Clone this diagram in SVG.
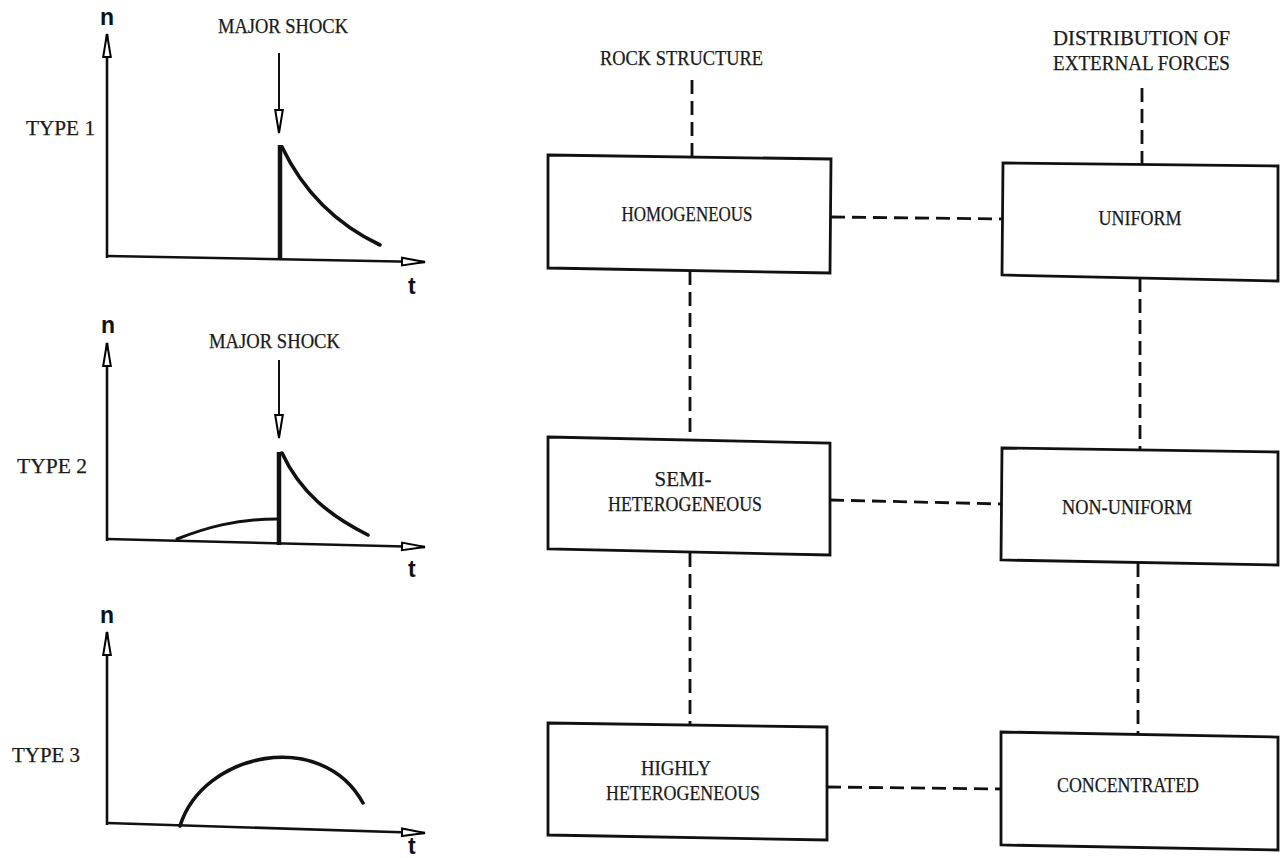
<svg xmlns="http://www.w3.org/2000/svg" width="1281" height="858" viewBox="0 0 1281 858">
<defs>
<marker id="hollow" markerUnits="userSpaceOnUse" markerWidth="30" markerHeight="14" refX="24" refY="5" orient="auto" viewBox="0 0 30 10" overflow="visible">
<path d="M1,1.2 L24,5 L1,8.8 Z" fill="#fff" stroke="#000" stroke-width="2"/>
</marker>
<style>
.txt{font-family:"Liberation Serif","DejaVu Serif",serif;font-size:20px;fill:#1a1a1a;stroke:#1a1a1a;stroke-width:0.25}
.lbl{font-family:"Liberation Sans","DejaVu Sans",sans-serif;font-weight:bold;font-size:23px;fill:#111}
.axis{fill:none;stroke:#111;stroke-width:2.6}
.curve{fill:none;stroke:#111;stroke-width:3.6;stroke-linecap:round}
.shock{fill:none;stroke:#111;stroke-width:2}
.bar{fill:none;stroke:#111;stroke-width:4.5}
.box{fill:#fff;stroke:#111;stroke-width:2.8;stroke-linejoin:miter}
.dash{fill:none;stroke:#111;stroke-width:2.8;stroke-dasharray:14 7}
</style>
</defs>
<rect width="1281" height="858" fill="#fff"/>

<g id="graph-type1">
<text class="txt" x="26" y="135" textLength="69" lengthAdjust="spacingAndGlyphs">TYPE 1</text>
<text class="lbl" x="100" y="25">n</text>
<text class="lbl" x="408" y="294">t</text>
<text class="txt" x="218" y="33" textLength="130" lengthAdjust="spacingAndGlyphs">MAJOR SHOCK</text>
<line class="axis" x1="107" y1="258" x2="107" y2="34" marker-end="url(#hollow)"/>
<line class="axis" x1="107" y1="256" x2="425" y2="262" marker-end="url(#hollow)"/>
<line class="shock" x1="279" y1="53" x2="279" y2="133" marker-end="url(#hollow)"/>
<line class="bar" x1="280" y1="145" x2="280" y2="259"/>
<path class="curve" d="M282,147 C305,195 338,225 380,245"/>
</g>

<g id="graph-type2">
<text class="txt" x="17" y="473" textLength="70" lengthAdjust="spacingAndGlyphs">TYPE 2</text>
<text class="lbl" x="101" y="333">n</text>
<text class="lbl" x="408" y="577">t</text>
<text class="txt" x="209" y="348" textLength="131" lengthAdjust="spacingAndGlyphs">MAJOR SHOCK</text>
<line class="axis" x1="107" y1="541" x2="107" y2="343" marker-end="url(#hollow)"/>
<line class="axis" x1="107" y1="539" x2="425" y2="547" marker-end="url(#hollow)"/>
<line class="shock" x1="279" y1="360" x2="279" y2="438" marker-end="url(#hollow)"/>
<line class="bar" x1="279" y1="452" x2="279" y2="545"/>
<path class="curve" d="M282,453 C300,492 330,516 368,535"/>
<path class="curve" style="stroke-width:3" d="M177,539 C205,528 235,519 277,519"/>
</g>

<g id="graph-type3">
<text class="txt" x="12" y="762" textLength="68" lengthAdjust="spacingAndGlyphs">TYPE 3</text>
<text class="lbl" x="100" y="623">n</text>
<text class="lbl" x="408" y="854">t</text>
<line class="axis" x1="107" y1="825" x2="107" y2="632" marker-end="url(#hollow)"/>
<line class="axis" x1="107" y1="823" x2="425" y2="833" marker-end="url(#hollow)"/>
<path class="curve" d="M180,826 C203,752 322,728 363,803"/>
</g>

<g id="headers">
<text class="txt" x="600" y="65" textLength="163" lengthAdjust="spacingAndGlyphs">ROCK STRUCTURE</text>
<text class="txt" x="1053" y="45" textLength="177" lengthAdjust="spacingAndGlyphs">DISTRIBUTION OF</text>
<text class="txt" x="1053" y="70" textLength="177" lengthAdjust="spacingAndGlyphs">EXTERNAL FORCES</text>
</g>

<g id="connectors">
<line class="dash" x1="692" y1="80" x2="692" y2="157"/>
<line class="dash" x1="1142" y1="88" x2="1142" y2="164"/>
<line class="dash" x1="690" y1="271" x2="690" y2="440"/>
<line class="dash" x1="1140" y1="278" x2="1140" y2="450"/>
<line class="dash" x1="690" y1="553" x2="690" y2="725"/>
<line class="dash" x1="1138" y1="563" x2="1138" y2="734"/>
<line class="dash" x1="831" y1="217" x2="1003" y2="219"/>
<line class="dash" x1="830" y1="500" x2="1002" y2="504"/>
<line class="dash" x1="827" y1="787" x2="1001" y2="789"/>
</g>

<g id="node-homogeneous">
<polygon class="box" points="548,155 831,159 830,273 548,268"/>
<text class="txt" x="687" y="221" text-anchor="middle" textLength="131" lengthAdjust="spacingAndGlyphs">HOMOGENEOUS</text>
</g>
<g id="node-uniform">
<polygon class="box" points="1003,163 1278,166 1278,281 1002,275"/>
<text class="txt" x="1140" y="225" text-anchor="middle" textLength="83" lengthAdjust="spacingAndGlyphs">UNIFORM</text>
</g>
<g id="node-semi">
<polygon class="box" points="548,437 830,443 830,555 548,549"/>
<text class="txt" x="683" y="486" text-anchor="middle" textLength="57" lengthAdjust="spacingAndGlyphs">SEMI-</text>
<text class="txt" x="685" y="511" text-anchor="middle" textLength="154" lengthAdjust="spacingAndGlyphs">HETEROGENEOUS</text>
</g>
<g id="node-nonuniform">
<polygon class="box" points="1002,448 1278,452 1278,565 1001,560"/>
<text class="txt" x="1127" y="514" text-anchor="middle" textLength="130" lengthAdjust="spacingAndGlyphs">NON-UNIFORM</text>
</g>
<g id="node-highly">
<polygon class="box" points="548,723 827,727 827,840 548,835"/>
<text class="txt" x="676" y="775" text-anchor="middle" textLength="70" lengthAdjust="spacingAndGlyphs">HIGHLY</text>
<text class="txt" x="683" y="800" text-anchor="middle" textLength="154" lengthAdjust="spacingAndGlyphs">HETEROGENEOUS</text>
</g>
<g id="node-concentrated">
<polygon class="box" points="1001,732 1278,737 1278,850 1001,845"/>
<text class="txt" x="1128" y="792" text-anchor="middle" textLength="142" lengthAdjust="spacingAndGlyphs">CONCENTRATED</text>
</g>
</svg>
